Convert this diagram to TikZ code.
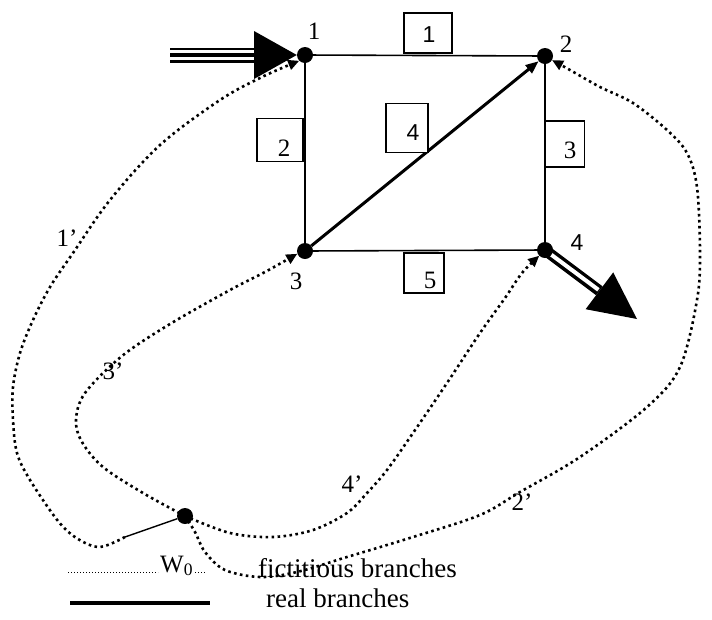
\documentclass[tikz,border=0pt]{standalone}
\usepackage{fontspec}
\setmainfont{Liberation Serif}
\newfontfamily\sansf{Liberation Sans}
\usetikzlibrary{arrows.meta,backgrounds,calc}
\begin{document}
\begin{tikzpicture}[x=1pt,y=-1pt,
  dotnode/.style={circle,fill=black,inner sep=0pt,minimum size=16pt},
  edge/.style={line width=1.6pt},
  lbox/.style={draw,line width=1.4pt,inner sep=0pt,fill=white},
  lbl/.style={font=\fontsize{25}{25}\selectfont,inner sep=0pt},
  slbl/.style={font=\sansf\fontsize{23}{23}\selectfont,inner sep=0pt},
  fict/.style={line width=2.6pt,dash pattern=on 2.6pt off 3.4pt,-{Triangle[length=11pt,width=10pt]}},
  legtext/.style={font=\fontsize{27}{27}\selectfont,inner sep=0pt,anchor=base west}
]
\useasboundingbox (0,0) rectangle (712,619);

% junction dots
\node[dotnode] (n1) at (305,55) {};
\node[dotnode] (n2) at (545,56) {};
\node[dotnode] (n3) at (305,251) {};
\node[dotnode] (n4) at (545,250) {};
\node[dotnode] (w0) at (185,516) {};

% node labels
\node[lbl] (l1) at (314,31) {1};
\node[lbl] (l2) at (566,44) {2};
\node[lbl] (l3) at (296,281) {3};
\node[slbl] (l4) at (577,243) {4};

% branch boxes
\node[lbox,minimum width=48pt,minimum height=40pt] (b1) at (428,33) {};
\node[lbox,minimum width=46pt,minimum height=43pt] (b2) at (280,140) {};
\node[lbox,minimum width=39pt,minimum height=46pt] (b3) at (565,144) {};
\node[lbox,minimum width=42pt,minimum height=49pt] (b4) at (407,128) {};
\node[lbox,minimum width=40pt,minimum height=40pt] (b5) at (424,273) {};
\node[slbl] (t1) at (429,35) {1};
\node[lbl] (t2) at (284,148) {2};
\node[lbl] (t3) at (570,150) {3};
\node[slbl] (t4) at (413,133) {4};
\node[lbl] (t5) at (430,280) {5};

% fictitious branch labels
\node[lbl] (p1) at (67,238) {1’};
\node[lbl] (p3) at (113,371) {3’};
\node[lbl] (p4) at (352,484) {4’};
\node[lbl] (p2) at (522,502) {2’};

% free-end coordinates
\coordinate (w1) at (125,537);
\coordinate (inT) at (170,55);
\coordinate (inB) at (257,55);
\coordinate (outB) at (599.4,290.8);
\coordinate (outT) at (637,319);

\begin{scope}[on background layer]
  % real branches
  \draw[edge] (n1) -- (n2);
  \draw[edge] (n1) -- (n3);
  \draw[edge] (n3) -- (n4);
  \draw[edge] (n2) -- (n4);
  \draw[line width=3pt,-{Triangle[length=13pt,width=10pt]}] (n3) -- (n2);
  \draw[line width=1.4pt] (w0) -- (w1);

  % input arrow
  \draw[line width=15pt] (inT) -- (inB);
  \draw[white,line width=10pt] (inT) -- (inB);
  \draw[line width=4.5pt] (inT) -- (inB);
  \fill (254,31) -- (n1.west) -- (254,79) -- cycle;

  % output arrow
  \draw[line width=11pt] (n4.center) -- (outB);
  \draw[white,line width=4pt] (n4.center) -- ($(outB)+(-1,-1)$);
  \fill (585.6,309.2) -- (outT) -- (613.2,272.4) -- cycle;

  % fictitious branches
  \draw[fict] plot[smooth,tension=0.55] coordinates {(w1) (100,547) (78,539) (58,521) (30,480) (17,453) (13,420) (13,387) (20,353) (33,320) (50,287) (73,253) (110,200) (160,145) (220,100) (262,77) (n1.225)};
  \draw[fict] plot[smooth,tension=0.55] coordinates {(w0.center) (143,493) (103,467) (82,442) (76,420) (85,393) (122,356) (170,324) (230,290) (265,272) (n3.200)};
  \draw[fict] plot[smooth,tension=0.55] coordinates {(w0.center) (230,533) (273,537) (313,530) (347,513) (367,493) (387,470) (413,433) (447,383) (480,333) (505,298) (522,273) (n4.225)};
  \draw[fict] plot[smooth,tension=0.55] coordinates {(w0.center) (195,532) (205,552) (225,570) (260,577) (297,572) (347,557) (413,537) (480,515) (520,492) (580,457) (647,407) (680,367) (697,300) (700,253) (697,187) (687,153) (667,130) (633,103) (600,87) (570,70) (n2.-30)};
\end{scope}

% legend
\coordinate (lg1a) at (68,572);
\coordinate (lg1b) at (158,572);
\draw[line width=1pt,dash pattern=on 1pt off 2pt] (lg1a) -- (lg1b);
\node[legtext,font=\fontsize{25}{25}\selectfont] (w0t) at (160,572) {W\textsubscript{0}};
\coordinate (lg2a) at ($(w0t.base east)+(2,0)$);
\coordinate (lg2b) at ($(w0t.base east)+(14,0)$);
\draw[line width=1pt,dash pattern=on 1pt off 2pt] (lg2a) -- (lg2b);
\coordinate (lg3a) at (70,603);
\coordinate (lg3b) at (210,603);
\draw[line width=4.5pt] (lg3a) -- (lg3b);
\node[legtext] (lf) at (258,577) {fictitious branches};
\node[legtext] (lr) at (266,607) {real branches};
\end{tikzpicture}
\end{document}
